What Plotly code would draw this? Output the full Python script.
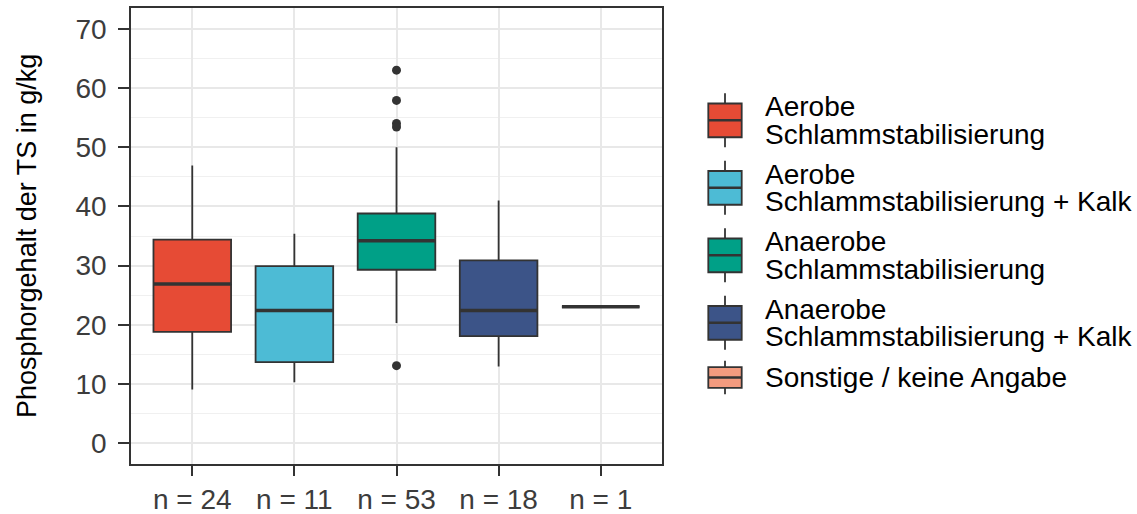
import plotly.graph_objects as go

# ---- data ----
categories = ["n = 24", "n = 11", "n = 53", "n = 18", "n = 1"]
groups = [
    "Aerobe<br>Schlammstabilisierung",
    "Aerobe<br>Schlammstabilisierung + Kalk",
    "Anaerobe<br>Schlammstabilisierung",
    "Anaerobe<br>Schlammstabilisierung + Kalk",
    "Sonstige / keine Angabe",
]
colors = ["#E64B35", "#4DBBD5", "#00A087", "#3C5488", "#F39B7F"]
lower_whisker = [9.1, 10.3, 20.3, 12.95, 23.05]
q1_values = [18.8, 13.7, 29.3, 18.1, 23.05]
median_values = [26.9, 22.4, 34.2, 22.4, 23.05]
q3_values = [34.4, 29.9, 38.8, 30.9, 23.05]
upper_whisker = [46.9, 35.4, 50.0, 41.0, 23.05]
outlier_group = [2, 2, 2, 2, 2]
outlier_values = [63.0, 57.9, 54.0, 53.4, 13.1]
y_ticks = [0, 10, 20, 30, 40, 50, 60, 70]
y_title = "Phosphorgehalt der TS in g/kg"

# ---- layout constants (pixels) ----
W, H = 1137, 514
ML, MR, MT, MB = 131, 475, 8, 50
PW, PH = W - ML - MR, H - MT - MB
FONT = "Liberation Sans, Arial, sans-serif"
FS = 28
TICK_COL = "#3C3C3C"
BOX_W = 0.76
DARK = "#333333"


def px_x(px):
    return (px - ML) / PW


def px_y(py):
    return (H - MB - py) / PH


fig = go.Figure()

for i, (cat, col) in enumerate(zip(categories, colors)):
    fig.add_trace(go.Box(
        x=[i], q1=[q1_values[i]], median=[median_values[i]], q3=[q3_values[i]],
        lowerfence=[lower_whisker[i]], upperfence=[upper_whisker[i]],
        width=BOX_W, whiskerwidth=0, fillcolor=col,
        line=dict(color=DARK, width=1.8), boxpoints=False,
        showlegend=False, name=cat,
    ))
    fig.add_trace(go.Scatter(
        x=[i - BOX_W / 2, i + BOX_W / 2], y=[median_values[i]] * 2,
        mode="lines", line=dict(color=DARK, width=3.5), showlegend=False,
        hoverinfo="skip",
    ))

fig.add_trace(go.Scatter(
    x=outlier_group, y=outlier_values, mode="markers",
    marker=dict(color=DARK, size=9), showlegend=False,
))

# ---- custom legend (ggplot style keys) ----
shapes = []
annotations = []
key_top = 86.6
line_gap = 27.5
x0b, x1b, xw = 708.3, 741.7, 725
for name, col in zip(groups, colors):
    lines = name.split("<br>")
    kh = 41.7 + (len(lines) - 1) * 25.8
    kc = key_top + kh / 2
    b_top, b_bot = key_top + 0.25 * kh, key_top + 0.75 * kh
    shapes.append(dict(type="line", xref="paper", yref="paper",
                       x0=px_x(xw), x1=px_x(xw), y0=px_y(key_top + 0.1 * kh), y1=px_y(b_top),
                       line=dict(color=DARK, width=1.8)))
    shapes.append(dict(type="line", xref="paper", yref="paper",
                       x0=px_x(xw), x1=px_x(xw), y0=px_y(b_bot), y1=px_y(key_top + 0.9 * kh),
                       line=dict(color=DARK, width=1.8)))
    shapes.append(dict(type="rect", xref="paper", yref="paper",
                       x0=px_x(x0b), x1=px_x(x1b), y0=px_y(b_bot), y1=px_y(b_top),
                       fillcolor=col, line=dict(color=DARK, width=1.8)))
    shapes.append(dict(type="line", xref="paper", yref="paper",
                       x0=px_x(x0b), x1=px_x(x1b), y0=px_y(kc), y1=px_y(kc),
                       line=dict(color=DARK, width=2.5)))
    n = len(lines)
    for j, ln in enumerate(lines):
        cy = kc + (j - (n - 1) / 2) * line_gap
        annotations.append(dict(text=ln, xref="paper", yref="paper",
                                x=px_x(763), y=px_y(cy), xanchor="left", yanchor="middle",
                                showarrow=False, font=dict(family=FONT, size=FS, color="black")))
    key_top += kh

annotations.append(dict(text=y_title, xref="paper", yref="paper", x=px_x(27), y=0.5,
                        xanchor="center", yanchor="middle", textangle=-90, showarrow=False,
                        font=dict(family=FONT, size=27, color="black")))

fig.update_layout(
    width=W, height=H,
    margin=dict(l=ML, r=MR, t=MT, b=MB, autoexpand=False),
    paper_bgcolor="white", plot_bgcolor="white",
    font=dict(family=FONT, size=FS, color=TICK_COL),
    shapes=shapes, annotations=annotations, showlegend=False,
    boxmode="overlay",
)
fig.update_xaxes(
    range=[-0.6, len(categories) - 0.4], tickmode="array",
    tickvals=list(range(len(categories))), ticktext=categories,
    showgrid=True, gridcolor="#E8E8E8", gridwidth=1.6, zeroline=False,
    showline=True, mirror=True, linecolor=DARK, linewidth=1.6,
    ticks="outside", ticklen=10, tickwidth=1.6, tickcolor=DARK,
    tickfont=dict(family=FONT, size=FS, color=TICK_COL),
)
fig.update_yaxes(
    range=[-3.5, 73.5], tickmode="array", tickvals=y_ticks,
    showgrid=True, gridcolor="#E8E8E8", gridwidth=1.6, zeroline=False,
    minor=dict(tickvals=[5, 15, 25, 35, 45, 55, 65], showgrid=True,
               gridcolor="#F0F0F0", gridwidth=1.2, ticks=""),
    showline=True, mirror=True, linecolor=DARK, linewidth=1.6,
    ticks="outside", ticklen=11, tickwidth=1.6, tickcolor=DARK,
    ticklabelstandoff=6,
    tickfont=dict(family=FONT, size=FS, color=TICK_COL),
)

fig.write_html(
    "out.html",
    config={"displayModeBar": False},
    post_script="document.body.style.margin='0';document.body.style.padding='0';"
                "document.body.style.overflow='hidden';",
)
